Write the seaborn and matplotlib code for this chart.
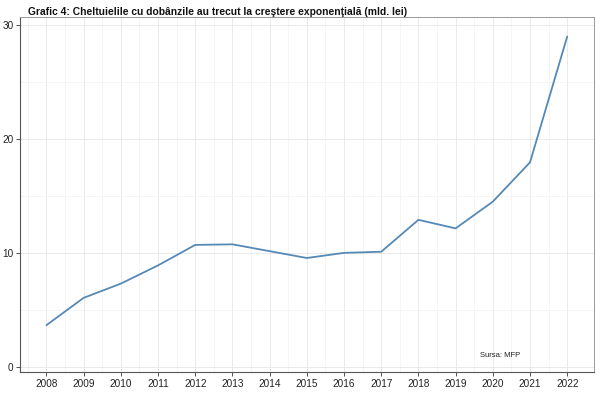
import pandas as pd
import matplotlib.pyplot as plt
import seaborn as sns

# Data (mld. lei)
years = [2008, 2009, 2010, 2011, 2012, 2013, 2014, 2015,
         2016, 2017, 2018, 2019, 2020, 2021, 2022]
dobanzi = [3.65, 6.05, 7.3, 8.9, 10.7, 10.75, 10.15, 9.55,
           10.0, 10.1, 12.9, 12.15, 14.5, 17.95, 29.0]
y_ticks = [0, 10, 20, 30]

df = pd.DataFrame({"An": years, "Dobanzi": dobanzi})

sns.set_style("white")
plt.rcParams["font.family"] = ["Liberation Sans", "DejaVu Sans"]

fig, ax = plt.subplots(figsize=(6, 3.99), dpi=100)
fig.subplots_adjust(left=0.034, right=0.99, bottom=0.068, top=0.957)

sns.lineplot(data=df, x="An", y="Dobanzi", ax=ax,
             color="#5589b6", linewidth=1.3)

ax.set_xlim(2007.3, 2022.72)
ax.set_ylim(-0.45, 30.7)
ax.set_xticks(years)
ax.set_xticks([y + 0.5 for y in years[:-1]] + [2007.5], minor=True)
ax.set_yticks(y_ticks)
ax.set_yticks([5, 15, 25], minor=True)
ax.grid(True, which="major", color="#e6e6e6", linewidth=0.6)
ax.grid(True, which="minor", color="#f2f2f2", linewidth=0.5)
ax.set_axisbelow(True)

ax.tick_params(axis="both", which="major", labelsize=7.2, length=3,
               width=0.6, color="#333333", labelcolor="#222222", pad=2,
               direction="out", bottom=True, left=True)
ax.tick_params(axis="both", which="minor", length=0)

for side in ["left", "bottom"]:
    ax.spines[side].set_color("#555555")
    ax.spines[side].set_linewidth(0.8)
for side in ["top", "right"]:
    ax.spines[side].set_color("#999999")
    ax.spines[side].set_linewidth(0.7)

ax.set_xlabel("")
ax.set_ylabel("")

fig.text(0.047, 0.982, "Grafic 4: Cheltuielile cu dobânzile au trecut la creştere exponenţială (mld. lei)",
         fontsize=7.4, fontweight="bold", ha="left", va="top", color="#111111")
ax.text(2020.2, 1.0, "Sursa: MFP", fontsize=5.5, ha="center", va="center", color="#222222")

plt.savefig("out.png", dpi=100)
